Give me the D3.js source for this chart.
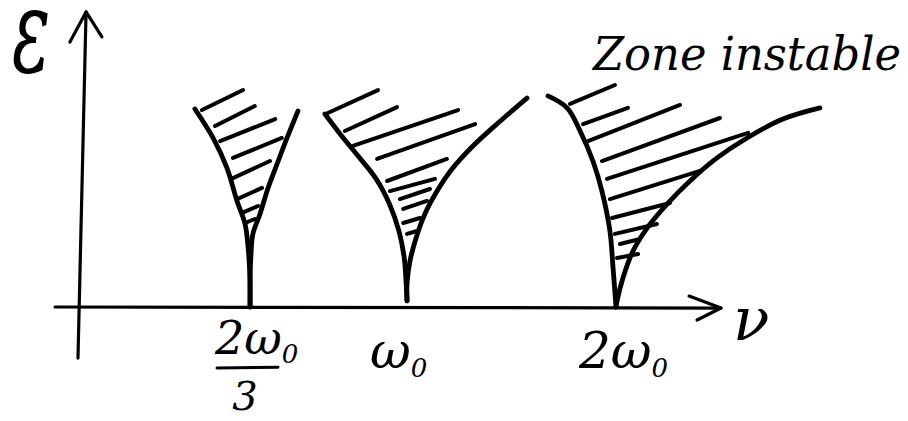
<!DOCTYPE html>
<html>
<head>
<meta charset="utf-8">
<script src="https://cdn.jsdelivr.net/npm/d3@7"></script>
<style>
  body { margin: 0; background: #fff; }
  svg { display: block; }
  .ink { fill: none; stroke: #000; stroke-linecap: round; stroke-linejoin: round; }
  .lbl { font-family: "DejaVu Serif", serif; font-style: italic; fill: #000; }
</style>
</head>
<body>
<div id="sketch"></div>
<script>
var width = 908, height = 421;

// resonance positions on the nu axis (units of w0) and their labels
var nuTicks = [2/3, 1, 2];
var tickMain = ["2ω", "ω", "2ω"];
var tickDenom = ["3", "", ""];

// tongue boundaries, [nu, epsilon]
var tongue1Left  = [[0.456,0.943],[0.528,0.805],[0.583,0.662],[0.623,0.505],[0.655,0.395],[0.667,0.281],[0.671,0.124],[0.671,0]];
var tongue1Right = [[0.772,0.933],[0.749,0.805],[0.728,0.681],[0.709,0.567],[0.692,0.443],[0.677,0.348],[0.673,0.252],[0.671,0.124],[0.671,0]];
var tongue2Left  = [[0.829,0.919],[0.861,0.824],[0.899,0.719],[0.937,0.610],[0.966,0.486],[0.985,0.362],[0.996,0.238],[1.000,0.124],[1.005,0.029]];
var tongue2Right = [[1.576,0.995],[1.438,0.876],[1.314,0.762],[1.219,0.657],[1.148,0.552],[1.090,0.443],[1.048,0.329],[1.019,0.219],[1.005,0.114],[1.005,0.029]];
var tongue3Left  = [[1.676,1.005],[1.767,0.948],[1.829,0.838],[1.890,0.695],[1.933,0.552],[1.971,0.362],[1.986,0.186],[2.000,0]];
var tongue3Right = [[2.971,0.948],[2.795,0.895],[2.624,0.805],[2.481,0.710],[2.352,0.600],[2.243,0.490],[2.148,0.376],[2.081,0.267],[2.033,0.138],[2.005,0.029],[2.000,0]];

// hatching strokes inside the unstable zones, [nu1, eps1, nu2, eps2]
var hatch1 = [[0.484,0.938,0.647,1.033],[0.536,0.862,0.681,0.957],[0.556,0.790,0.724,0.895],[0.607,0.710,0.738,0.805],
              [0.607,0.614,0.713,0.695],[0.623,0.514,0.696,0.567],[0.643,0.448,0.688,0.481],[0.655,0.400,0.681,0.419]];
var hatch2 = [[0.835,0.924,0.941,1.033],[0.871,0.838,0.981,0.952],[0.888,0.767,1.248,0.938],[0.939,0.705,1.329,0.871],
              [0.960,0.600,1.195,0.705],[0.966,0.552,1.138,0.610],[0.987,0.514,1.114,0.562],[0.994,0.467,1.100,0.505],
              [0.994,0.400,1.067,0.424],[1.005,0.348,1.052,0.362]];
var hatch3 = [[1.781,0.967,1.995,1.057],[1.843,0.871,2.057,0.948],[1.867,0.790,2.305,0.962],[1.933,0.695,2.495,0.900],
              [1.957,0.610,2.629,0.829],[1.971,0.514,2.400,0.648],[1.981,0.424,2.257,0.495],[1.995,0.348,2.195,0.395],
              [2.019,0.300,2.114,0.324],[2.005,0.233,2.105,0.252]];

// axes drawn by hand: [nu, eps] ends and arrow wings
var yAxisLine  = [[-0.008,-0.243],[0.024,1.405]];
var yAxisHead  = [[-0.040,1.262],[0.024,1.405],[0.087,1.286]];
var xAxisLine  = [[-0.099,0],[2.500,-0.005]];
var xAxisHead  = [[2.348,0.052],[2.500,-0.005],[2.386,-0.062]];

var svg = d3.select("#sketch")
    .append("svg")
        .attr("width", width)
        .attr("height", height);

svg.append("rect").attr("width", width).attr("height", height).attr("fill", "#fff");

// the sketch is not to scale, so the nu axis is piecewise
var x = d3.scaleLinear()
    .domain([0, 2/3, 1, 3])
    .range([80, 248, 406, 826]);
var y = d3.scaleLinear()
    .domain([0, 1])
    .range([307, 97]);

var line = d3.line()
    .x(function(d) { return x(d[0]); })
    .y(function(d) { return y(d[1]); });
var curve = d3.line()
    .x(function(d) { return x(d[0]); })
    .y(function(d) { return y(d[1]); })
    .curve(d3.curveCatmullRom);

//////////// axes ////////////////
[yAxisLine, yAxisHead, xAxisLine, xAxisHead].forEach(function(pts) {
    svg.append("path")
        .attr("class", "ink")
        .attr("stroke-width", 3.2)
        .attr("d", line(pts));
});

//////////// hatching ////////////////
[hatch1, hatch2, hatch3].forEach(function(set) {
    svg.append("g").selectAll("line")
        .data(set)
        .enter().append("line")
            .attr("class", "ink")
            .attr("stroke-width", 4)
            .attr("x1", function(d) { return x(d[0]); })
            .attr("y1", function(d) { return y(d[1]); })
            .attr("x2", function(d) { return x(d[2]); })
            .attr("y2", function(d) { return y(d[3]); });
});

//////////// tongue boundaries ////////////////
[tongue1Left, tongue1Right, tongue2Left, tongue2Right, tongue3Left, tongue3Right].forEach(function(pts) {
    svg.append("path")
        .attr("class", "ink")
        .attr("stroke-width", 4.8)
        .attr("d", curve(pts));
});

//// text labels /////////////////////////
// epsilon, stretched upward like the handwritten one
svg.append("text")
    .attr("class", "lbl")
    .attr("transform", "translate(12," + y(1.119) + ") scale(0.85,1.4)")
    .style("font-size", "84px")
    .text("ε");

svg.append("text")
    .attr("class", "lbl")
    .attr("x", x(2.5) + 12)
    .attr("y", y(-0.157))
    .style("font-size", "60px")
    .text("ν");

svg.append("text")
    .attr("class", "lbl")
    .attr("x", 593)
    .attr("y", 70)
    .attr("textLength", 308)
    .attr("lengthAdjust", "spacingAndGlyphs")
    .style("font-size", "46px")
    .text("Zone instable");

var tickDx = [-33, -36, -37];
var tickDy = [-0.225, -0.29, -0.29];
nuTicks.forEach(function(v, i) {
    var t = svg.append("text")
        .attr("class", "lbl")
        .attr("x", x(v) + tickDx[i])
        .attr("y", y(tickDy[i]))
        .style("font-size", i == 0 ? "46px" : "50px");
    t.append("tspan").text(tickMain[i]);
    t.append("tspan")
        .attr("dy", 9)
        .style("font-size", "26px")
        .text("0");

    if (tickDenom[i]) {
        svg.append("line")
            .attr("class", "ink")
            .attr("stroke-width", 3)
            .attr("x1", x(v) - 31)
            .attr("x2", x(v) + 30)
            .attr("y1", y(-0.29))
            .attr("y2", y(-0.287));
        svg.append("text")
            .attr("class", "lbl")
            .attr("x", x(v) - 3)
            .attr("y", y(-0.490))
            .attr("text-anchor", "middle")
            .style("font-size", "40px")
            .text(tickDenom[i]);
    }
});
</script>
</body>
</html>
